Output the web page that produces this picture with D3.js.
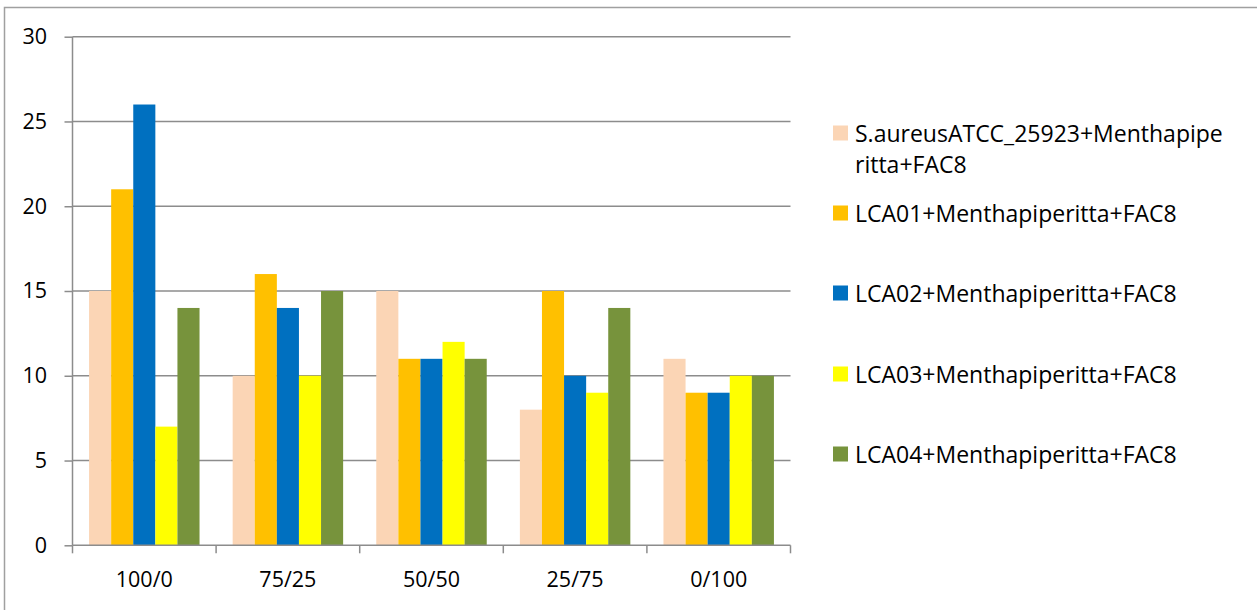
<!DOCTYPE html>
<html>
<head>
<meta charset="utf-8">
<script src="https://cdn.jsdelivr.net/npm/d3@7"></script>
<style>
  html, body { margin: 0; padding: 0; background: #fff; }
  svg { display: block; font-family: "Open Sans", Lato, sans-serif; }
</style>
</head>
<body>
<svg id="chart" width="1257" height="610"></svg>
<script>
// Ratios along the x axis
const categories = ["100/0", "75/25", "50/50", "25/75", "0/100"];

// One series per strain combination
const seriesNames = [
  "S.aureusATCC_25923+Menthapiperitta+FAC8",
  "LCA01+Menthapiperitta+FAC8",
  "LCA02+Menthapiperitta+FAC8",
  "LCA03+Menthapiperitta+FAC8",
  "LCA04+Menthapiperitta+FAC8"
];
const sAureus = [15, 10, 15, 8, 11];
const lca01 = [21, 16, 11, 15, 9];
const lca02 = [26, 14, 11, 10, 9];
const lca03 = [7, 10, 12, 9, 10];
const lca04 = [14, 15, 11, 14, 10];
const seriesValues = [sAureus, lca01, lca02, lca03, lca04];
const seriesColors = ["#FBD5B5", "#FFC000", "#0070C0", "#FFFF00", "#77933C"];

const yTicks = [0, 5, 10, 15, 20, 25, 30];

const AXIS_FONT = 21.5;
const LEGEND_FONT = 23;

const svg = d3.select("#chart");

// Outer chart frame
svg.append("rect")
  .attr("x", 4.5).attr("y", 7.5)
  .attr("width", 1300).attr("height", 700)
  .attr("fill", "none").attr("stroke", "#a0a0a0").attr("stroke-width", 1.5);

const plot = { left: 72.5, right: 790.5, top: 36.7, bottom: 545.3 };

const x = d3.scaleBand().domain(categories).range([plot.left, plot.right]);
const barW = x.bandwidth() / 6.5;
const gap = barW * 0.75;

const y = d3.scaleLinear().domain([0, 30]).range([plot.bottom, plot.top]);

// Horizontal gridlines
svg.append("g").selectAll("line").data(yTicks.filter(d => d > 0)).join("line")
  .attr("x1", plot.left).attr("x2", plot.right)
  .attr("y1", d => y(d)).attr("y2", d => y(d))
  .attr("stroke", "#8c8c8c").attr("stroke-width", 1.5);

// Bars
const rows = [];
seriesValues.forEach((vals, s) => {
  vals.forEach((v, i) => rows.push({ s, cat: categories[i], v }));
});
svg.append("g").selectAll("rect").data(rows).join("rect")
  .attr("x", d => x(d.cat) + gap + d.s * barW)
  .attr("width", barW)
  .attr("y", d => y(d.v))
  .attr("height", d => y(0) - y(d.v))
  .attr("fill", d => seriesColors[d.s]);

// Y axis
const yAxis = svg.append("g")
  .attr("transform", `translate(${plot.left},0)`)
  .call(d3.axisLeft(y).tickValues(yTicks).tickSize(8).tickPadding(17.5));
yAxis.select(".domain").attr("stroke", "#8c8c8c").attr("stroke-width", 1.5)
  .attr("d", `M0,${plot.top}V${plot.bottom}`);
yAxis.selectAll(".tick line").attr("stroke", "#8c8c8c").attr("stroke-width", 1.5);
yAxis.selectAll(".tick text").attr("font-size", AXIS_FONT).attr("fill", "#000")
  .style("font-family", "'Open Sans', Lato, sans-serif");

// X axis with ticks at band boundaries
const xAxis = svg.append("g")
  .attr("transform", `translate(0,${plot.bottom})`);
xAxis.append("line")
  .attr("x1", plot.left).attr("x2", plot.right)
  .attr("stroke", "#8c8c8c").attr("stroke-width", 1.5);
const bounds = categories.map(c => x(c)).concat([x(categories[categories.length - 1]) + x.bandwidth()]);
xAxis.selectAll("line.tk").data(bounds).join("line").attr("class", "tk")
  .attr("x1", d => d).attr("x2", d => d).attr("y1", 0).attr("y2", 8)
  .attr("stroke", "#8c8c8c").attr("stroke-width", 1.5);
xAxis.selectAll("text").data(categories).join("text")
  .attr("x", d => x(d) + x.bandwidth() / 2)
  .attr("y", 42)
  .attr("text-anchor", "middle")
  .attr("font-size", AXIS_FONT)
  .attr("fill", "#000")
  .text(d => d);

// Legend
const legendRows = [133, 213, 293, 374, 454];
const legend = svg.append("g");
seriesNames.forEach((name, i) => {
  const g = legend.append("g").attr("transform", `translate(833,${legendRows[i]})`);
  g.append("rect").attr("x", 0).attr("y", -7.5).attr("width", 15).attr("height", 15)
    .attr("fill", seriesColors[i]);
  const t = g.append("text").attr("x", 22).attr("y", 8.5).attr("font-size", LEGEND_FONT).attr("fill", "#000");
  if (i === 0) {
    t.append("tspan").attr("x", 22).text("S.aureusATCC_25923+Menthapipe");
    t.append("tspan").attr("x", 22).attr("dy", 31).text("ritta+FAC8");
  } else {
    t.text(name);
  }
});
</script>
</body>
</html>
